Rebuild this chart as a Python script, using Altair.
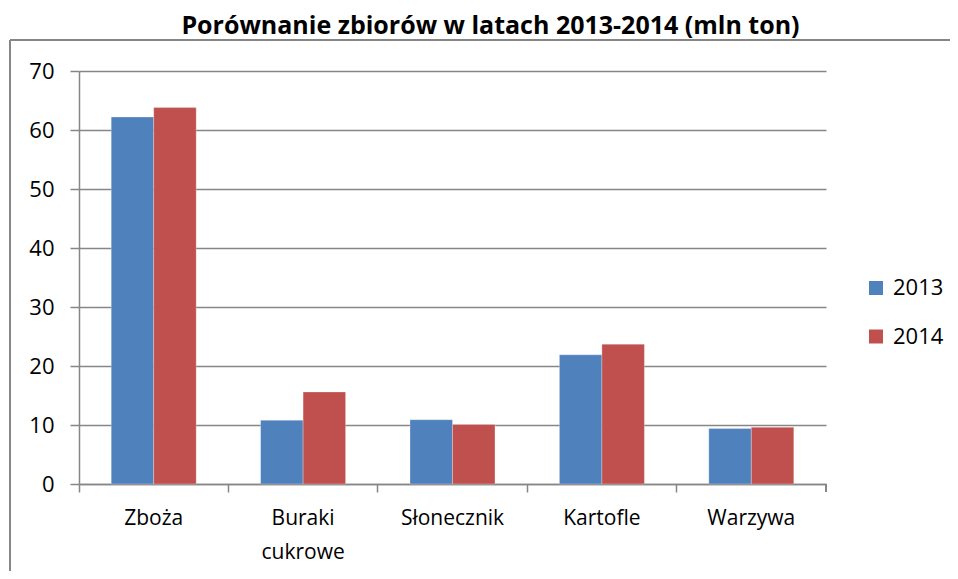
import altair as alt
import pandas as pd

categories = ["Zboża", "Buraki cukrowe", "Słonecznik", "Kartofle", "Warzywa"]
years = ["2013", "2014"]
values_2013 = [62.2, 10.8, 10.9, 21.9, 9.4]
values_2014 = [63.8, 15.6, 10.1, 23.7, 9.6]
y_ticks = [0, 10, 20, 30, 40, 50, 60, 70]

rows = []
for c, a, b in zip(categories, values_2013, values_2014):
    rows.append({"kategoria": c, "rok": "2013", "wartosc": a})
    rows.append({"kategoria": c, "rok": "2014", "wartosc": b})
df = pd.DataFrame(rows)

W, H = 747, 413
FONT = "Open Sans"
GRAY = "#868686"

bars = alt.Chart(df).mark_bar(stroke="#ffffff", strokeOpacity=0.35, strokeWidth=0.8).encode(
    x=alt.X("kategoria:N", sort=categories, title=None,
            scale=alt.Scale(paddingInner=0, paddingOuter=0),
            axis=alt.Axis(bandPosition=0, labelAngle=0,
                          labelExpr="split(datum.label, ' ')",
                          tickSize=8, tickColor=GRAY, tickWidth=1.5,
                          domainColor=GRAY, domainWidth=1.5,
                          labelFont=FONT, labelFontSize=21, labelColor="#000000",
                          labelPadding=15, labelLineHeight=34, grid=False)),
    xOffset=alt.XOffset("rok:N", sort=years,
                        scale=alt.Scale(paddingInner=0, paddingOuter=0.758)),
    y=alt.Y("wartosc:Q", title=None,
            scale=alt.Scale(domain=[0, 70], nice=False),
            axis=alt.Axis(values=y_ticks, tickSize=9, tickColor=GRAY, tickWidth=1.5,
                          domainColor=GRAY, domainWidth=1.5,
                          gridColor=GRAY, gridWidth=1.5,
                          labelFont=FONT, labelFontSize=22, labelColor="#000000",
                          labelPadding=16)),
    color=alt.Color("rok:N", sort=years,
                    scale=alt.Scale(domain=years, range=["#4F81BD", "#C0504D"]),
                    legend=alt.Legend(title=None, orient="none", legendX=786, legendY=206,
                                      symbolType="square", symbolSize=196,
                                      symbolStrokeWidth=0,
                                      labelFont=FONT, labelFontSize=22, labelColor="#000000",
                                      rowPadding=26.5, labelOffset=6)),
)

end_tick = alt.Chart(df).mark_rule(color=GRAY, strokeWidth=1.5).encode(
    x=alt.value(W), y=alt.value(H), y2=alt.value(H + 8)
)
frame_v = alt.Chart(df).mark_rule(color=GRAY, strokeWidth=1.5).encode(
    x=alt.value(-69), y=alt.value(-31), y2=alt.value(520)
)
frame_h = alt.Chart(df).mark_rule(color=GRAY, strokeWidth=1.5).encode(
    x=alt.value(-69), x2=alt.value(880), y=alt.value(-31)
)

chart = alt.layer(bars, end_tick, frame_v, frame_h).properties(
    width=W, height=H,
    padding={"left": 71, "top": 63, "right": 124, "bottom": 87},
    autosize=alt.AutoSizeParams(type="none"),
    title=alt.TitleParams("Porównanie zbiorów w latach 2013-2014 (mln ton)",
                          font=FONT, fontSize=25, fontWeight="bold", color="#000000",
                          offset=0, dx=38),
).configure(background="white").configure_view(strokeWidth=0)

chart.save("out.html", embed_options={"renderer": "svg", "actions": False})
